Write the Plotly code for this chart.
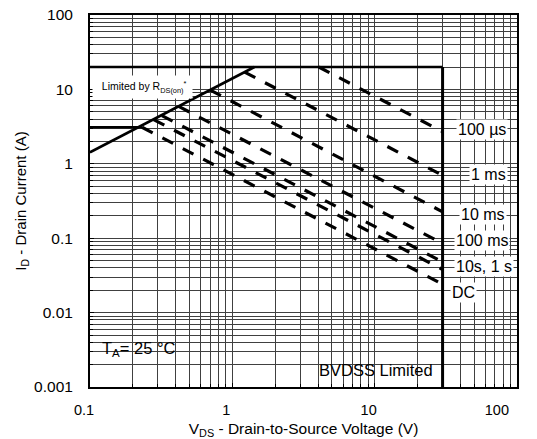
import plotly.graph_objects as go

# ---------------- data ----------------
# R_DS(on) limit line
rds_v = [0.1, 1.43]
rds_i = [1.43, 20.0]
# package / ID(max) limit
idmax_v = [0.1, 30.0]
idmax_i = [20.0, 20.0]
# BVDSS limit
bv_v = [30.0, 30.0]
bv_i = [20.0, 0.001]
# DC continuous current limit (flat part)
dcflat_v = [0.1, 0.232]
dcflat_i = [3.1, 3.1]

# pulse (power limited) lines: start point and end point
pulse_names = ["100 µs", "1 ms", "10 ms", "100 ms", "1 s", "10 s", "DC"]
pulse_v_start = [4.05, 1.22, 0.70, 0.42, 0.32, 0.28, 0.232]
pulse_i_start = [20.0, 17.1, 9.8, 5.9, 4.45, 3.92, 3.1]
pulse_v_end = [30.0, 30.0, 30.0, 30.0, 30.0, 30.0, 30.0]
pulse_i_end = [2.7, 0.70, 0.226, 0.085, 0.048, 0.038, 0.024]

# axis ticks
x_tickvals = [0.1, 1.0, 10.0, 100.0]
x_ticktext = ["0.1", "1", "10", "100" + "\u00a0" * 7]
x_minor = [m * 10.0 ** e for e in (-1, 0, 1) for m in range(2, 10)]
y_tickvals = [0.001, 0.01, 0.1, 1.0, 10.0, 100.0]
y_ticktext = ["0.001", "0.01", "0.1", "1", "10", "100"]
y_minor = [m * 10.0 ** e for e in (-3, -2, -1, 0, 1) for m in range(2, 10)]

FONT = "Liberation Sans, Arial, sans-serif"

fig = go.Figure()

solid = dict(color="black", width=2.6)
fig.add_trace(go.Scatter(x=rds_v, y=rds_i, mode="lines", line=solid, showlegend=False))
fig.add_trace(go.Scatter(x=idmax_v, y=idmax_i, mode="lines", line=solid, showlegend=False))
fig.add_trace(go.Scatter(x=bv_v, y=bv_i, mode="lines", line=dict(color="black", width=3), showlegend=False))
fig.add_trace(go.Scatter(x=dcflat_v, y=dcflat_i, mode="lines", line=solid, showlegend=False))

for name, v0, i0, v1, i1 in zip(pulse_names, pulse_v_start, pulse_i_start, pulse_v_end, pulse_i_end):
    fig.add_trace(go.Scatter(x=[v0, v1], y=[i0, i1], mode="lines", name=name,
                             line=dict(color="black", width=3.2, dash="12px,11px"),
                             showlegend=False))

grid = "#404040"
common = dict(type="log", showgrid=True, gridcolor=grid, gridwidth=1,
              ticks="inside", ticklen=4, tickcolor="black",
              showline=True, linecolor="black", linewidth=2, mirror=True,
              zeroline=False, tickmode="array", automargin=False)
fig.update_xaxes(range=[-1, 2], tickvals=x_tickvals, ticktext=x_ticktext,
                 minor=dict(tickmode="array", tickvals=x_minor, showgrid=True, gridcolor=grid,
                            gridwidth=1, ticks="inside", ticklen=3, tickcolor="black"),
                 tickfont=dict(family=FONT, size=14.5, color="black"),
                 ticklabelstandoff=9, ticklabelshift=-6, ticklabeloverflow="allow",
                 title=dict(text="V<sub>DS</sub> - Drain-to-Source Voltage (V)",
                            font=dict(family=FONT, size=15.5, color="black"), standoff=8),
                 **common)
fig.update_yaxes(range=[-3, 2], tickvals=y_tickvals, ticktext=y_ticktext,
                 minor=dict(tickmode="array", tickvals=y_minor, showgrid=True, gridcolor=grid,
                            gridwidth=1, ticks="inside", ticklen=3, tickcolor="black"),
                 tickfont=dict(family=FONT, size=15.5, color="black"),
                 ticklabelstandoff=12,
                 title=dict(text="I<sub>D</sub> - Drain Current (A)",
                            font=dict(family=FONT, size=15, color="black"), standoff=4),
                 **common)

# white boxes (above grid, below traces)
fig.add_shape(type="rect", xref="paper", yref="paper", x0=0.005, x1=0.253, y0=0.003, y1=0.140,
              fillcolor="white", line=dict(width=0), layer="between")
fig.add_shape(type="rect", xref="paper", yref="paper", x0=0.515, x1=0.815, y0=0.003, y1=0.091,
              fillcolor="white", line=dict(width=0), layer="between")

fig.add_annotation(xref="paper", yref="paper", x=0.005, y=0.807, xanchor="left", yanchor="middle",
                   text="\u00a0\u00a0Limited by R<sub>DS(on)</sub><sup>*</sup>\u00a0",
                   showarrow=False, bgcolor="white", borderpad=3,
                   font=dict(family=FONT, size=10.5, color="black"))
fig.add_annotation(xref="paper", yref="paper", x=0.0234, y=0.102, xanchor="left", yanchor="middle",
                   text="T<sub>A</sub>= 25 °C", showarrow=False,
                   font=dict(family=FONT, size=16.5, color="black"))
fig.add_annotation(xref="paper", yref="paper", x=0.670, y=0.046, xanchor="center", yanchor="middle",
                   text="BVDSS Limited", showarrow=False,
                   font=dict(family=FONT, size=16.5, color="black"))

right_labels = ["100 µs", "1 ms", "10 ms", "100 ms", "10s, 1 s", "DC"]
right_pos = [(0.918, 0.691), (0.934, 0.570), (0.920, 0.465), (0.918, 0.395), (0.923, 0.323), (0.874, 0.253)]
for t, (px, py) in zip(right_labels, right_pos):
    fig.add_annotation(xref="paper", yref="paper", x=px, y=py, xanchor="center", yanchor="middle",
                       text=t, showarrow=False, bgcolor="white", borderpad=1,
                       font=dict(family=FONT, size=16, color="black"))

fig.update_layout(width=537, height=439, margin=dict(l=90, r=20, t=15, b=52),
                  plot_bgcolor="white", paper_bgcolor="white",
                  font=dict(family=FONT, color="black"))

fig.write_html("out.html")
